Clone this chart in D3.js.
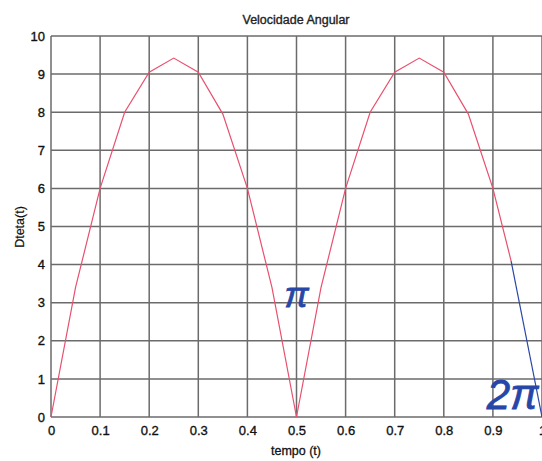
<!DOCTYPE html>
<html><head><meta charset="utf-8">
<script src="https://cdn.jsdelivr.net/npm/d3@7/dist/d3.min.js"></script>
<style>body{margin:0;background:#fff}svg{display:block}text{font-family:"Liberation Sans",Arial,sans-serif}</style>
</head><body><svg id="c" width="542" height="461"></svg>
<script>
const title = "Velocidade Angular";
const xLabel = "tempo (t)";
const yLabel = "Dteta(t)";
const xTicks = [0,0.1,0.2,0.3,0.4,0.5,0.6,0.7,0.8,0.9,1];
const yTicks = [0,1,2,3,4,5,6,7,8,9,10];
// red series (t, value)
const redT = [0,0.05,0.1,0.15,0.2,0.25,0.3,0.35,0.4,0.45,0.5,0.55,0.6,0.65,0.7,0.75,0.8,0.85,0.9,0.937];
const redV = [0,3.4,6.0,8.0,9.05,9.42,9.05,7.95,6.0,3.4,0,3.4,6.0,8.0,9.05,9.42,9.05,7.95,6.0,4.1];
// blue final segment
const blueT = [0.937,1.0];
const blueV = [4.1,0];
const annotations = [{t:0.5,v:2.9,text:"π",size:36},{t:0.94,v:0.2,text:"2π",size:42}];

const svg = d3.select("#c");
const x = d3.scaleLinear().domain([0,1]).range([51,542]);
const y = d3.scaleLinear().domain([0,10]).range([417,36]);

// grid
svg.append("g").selectAll("line").data(xTicks).join("line")
  .attr("x1",d=>x(d)).attr("x2",d=>x(d)).attr("y1",y(0)).attr("y2",y(10))
  .attr("stroke","#6b6b6b").attr("stroke-width",1.5);
svg.append("g").selectAll("line").data(yTicks).join("line")
  .attr("x1",x(0)).attr("x2",x(1)).attr("y1",d=>y(d)).attr("y2",d=>y(d))
  .attr("stroke","#6b6b6b").attr("stroke-width",1.5);

// axes labels
const xa = svg.append("g").attr("transform",`translate(0,${y(0)})`)
  .call(d3.axisBottom(x).tickValues(xTicks).tickSize(0).tickPadding(9).tickFormat(d=>d===0?"0":d3.format("")(d)));
xa.select(".domain").remove();
const ya = svg.append("g").attr("transform",`translate(${x(0)},0)`)
  .call(d3.axisLeft(y).tickValues(yTicks).tickSize(0).tickPadding(6));
ya.select(".domain").remove();
svg.selectAll(".tick text").attr("font-size",13).attr("fill","#111").attr("stroke","#111").attr("stroke-width",0.35)
  .attr("font-family","Liberation Sans, Arial, sans-serif");

// lines
const line = d3.line().x(d=>x(d[0])).y(d=>y(d[1]));
svg.append("path").datum(redT.map((t,i)=>[t,redV[i]])).attr("d",line)
  .attr("fill","none").attr("stroke","#e8506e").attr("stroke-width",1.2);
svg.append("path").datum(blueT.map((t,i)=>[t,blueV[i]])).attr("d",line)
  .attr("fill","none").attr("stroke","#2a46a6").attr("stroke-width",1.2);

// annotations
svg.selectAll("text.ann").data(annotations).join("text").attr("class","ann")
  .attr("x",d=>x(d.t)).attr("y",d=>y(d.v)).attr("text-anchor","middle")
  .attr("font-family","DejaVu Serif, Liberation Serif, serif").attr("font-style","italic")
  .attr("stroke","#2646a8").attr("stroke-width",0.8)
  .attr("font-size",d=>d.size).attr("fill","#2646a8").text(d=>d.text);

// titles
svg.append("text").attr("x",296).attr("y",24).attr("text-anchor","middle")
  .attr("font-size",12.5).attr("fill","#222").attr("stroke","#222").attr("stroke-width",0.35).text(title);
svg.append("text").attr("x",296).attr("y",455).attr("text-anchor","middle")
  .attr("font-size",12.5).attr("fill","#111").attr("stroke","#111").attr("stroke-width",0.3).text(xLabel);
svg.append("text").attr("transform","translate(24,227) rotate(-90)").attr("text-anchor","middle")
  .attr("font-size",12.5).attr("fill","#111").attr("stroke","#111").attr("stroke-width",0.2).text(yLabel);
</script></body></html>
